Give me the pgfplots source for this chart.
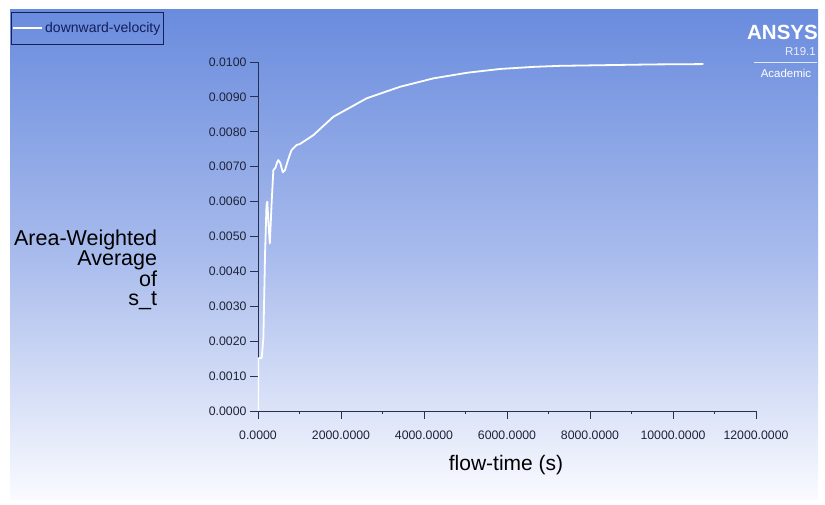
\documentclass[border=0pt]{standalone}
\usepackage{fontspec}
\setmainfont{Liberation Sans}
\usepackage{pgfplots}
\pgfplotsset{compat=1.18}
\definecolor{bgtop}{RGB}{106,140,222}
\definecolor{bgmid}{RGB}{168,187,236}
\definecolor{bgbot}{RGB}{250,251,255}
\definecolor{axcol}{RGB}{40,48,80}
\definecolor{tickcol}{RGB}{30,36,56}
\definecolor{legcol}{RGB}{20,30,90}
\begin{document}
\begin{tikzpicture}[x=1pt,y=1pt]
\path[use as bounding box] (0,0) rectangle (825,505);
\shade[top color=bgtop, bottom color=bgbot, middle color=bgmid] (10,5) rectangle (818,495);
\begin{axis}[
  at={(258pt,94pt)}, anchor=south west,
  scale only axis, width=498pt, height=349pt,
  xmin=0, xmax=12000, ymin=0, ymax=0.0100,
  axis x line*=bottom, axis y line*=left,
  axis line style={draw=axcol, line width=0.8pt, -},
  tick align=outside,
  major tick length=8pt, minor tick length=3pt,
  tick style={draw=axcol, line width=0.8pt},
  xtick={0,2000,...,12000}, minor x tick num=1,
  ytick={0,0.001,...,0.0105},
  scaled x ticks=false, scaled y ticks=false,
  /pgf/number format/fixed, /pgf/number format/fixed zerofill,
  /pgf/number format/precision=4, /pgf/number format/1000 sep={},
  /pgf/number format/assume math mode=true,
  ticklabel style={font=\fontsize{12.3}{14}\selectfont, text=tickcol},
  xticklabel style={yshift=-8pt},
  yticklabel style={xshift=0pt},
  xlabel={flow-time (s)},
  every axis x label/.style={at={(axis description cs:0.498,-0.155)}, anchor=center, font=\fontsize{21}{24}\selectfont},
  ylabel={Area-Weighted\\Average\\of\\s\_t},
  every axis y label/.style={at={(axis description cs:-0.1955,0.529)}, anchor=north east, align=right, font=\fontsize{21.5}{19}\selectfont},
  legend style={at={(axis description cs:-0.496,1.143)}, anchor=north west, draw=legcol, line width=0.8pt, fill=none, font=\fontsize{14}{16}\selectfont, text=legcol, inner xsep=1pt, inner ysep=8pt},
  legend image code/.code={\draw[white, line width=1.8pt] (0pt,0pt) -- (29pt,0pt);},
]
\addplot[white, line width=1.8pt, line join=round] coordinates {
(0,0) (8,0.00151) (90,0.00152) (130,0.0021) (170,0.0045) (205,0.0059)
(225,0.0060) (250,0.0054) (285,0.0048) (330,0.0060) (370,0.0069)
(420,0.00697) (460,0.00712) (490,0.00719) (540,0.0071) (595,0.00684)
(650,0.0069) (700,0.0071) (760,0.00732) (810,0.00748) (930,0.00762)
(1010,0.00765) (1330,0.0079) (1815,0.00843) (2619,0.00896) (3422,0.00929)
(4225,0.00953) (5028,0.00969) (5831,0.0098) (6634,0.00986) (7277,0.00989)
(8402,0.00991) (9500,0.00993) (10731,0.00994)
};
\addlegendentry{downward-velocity}
\end{axis}
\node[anchor=north east, inner sep=0pt, text=white, font=\bfseries\fontsize{20.5}{22}\selectfont] at (818,480) {ANSYS};
\node[anchor=north east, inner sep=0pt, text=white!85!bgtop, font=\fontsize{11.5}{13}\selectfont] at (816,458) {R19.1};
\draw[white!80!bgtop, line width=0.8pt] (754,443) -- (817,443);
\node[anchor=north, inner sep=0pt, text=white, font=\fontsize{11.5}{13}\selectfont] at (786,436) {Academic};
\end{tikzpicture}
\end{document}
